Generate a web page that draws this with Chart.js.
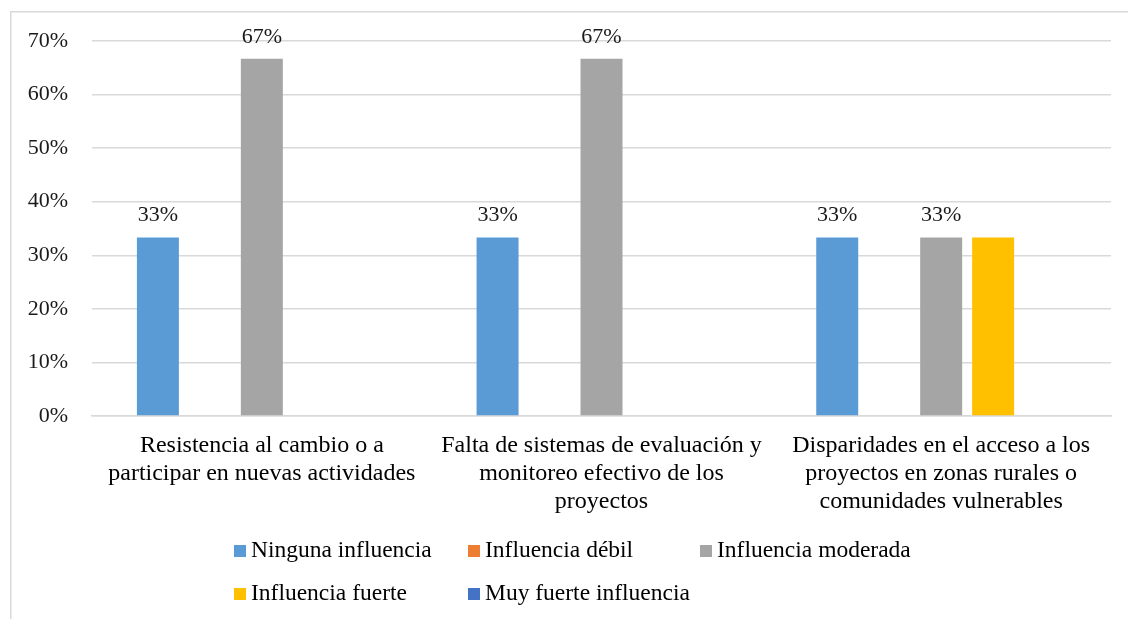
<!DOCTYPE html>
<html>
<head>
<meta charset="utf-8">
<script src="https://cdn.jsdelivr.net/npm/chart.js@4.4.1/dist/chart.umd.min.js"></script>
<style>
  html, body { margin: 0; padding: 0; background: #fff; }
  #wrap { position: relative; width: 1128px; height: 619px; }
</style>
</head>
<body>
<div id="wrap"><canvas id="grafica" width="1128" height="619"></canvas></div>
<script>
// Datos
const categorias = [
    ['Resistencia al cambio o a', 'participar en nuevas actividades'],
    ['Falta de sistemas de evaluación y', 'monitoreo efectivo de los', 'proyectos'],
    ['Disparidades en el acceso a los', 'proyectos en zonas rurales o', 'comunidades vulnerables']
];
const series = ['Ninguna influencia', 'Influencia débil', 'Influencia moderada', 'Influencia fuerte', 'Muy fuerte influencia'];
const colores = ['#5B9BD5', '#ED7D31', '#A5A5A5', '#FFC000', '#4472C4'];
const ninguna = [33.33, 33.33, 33.33];
const debil = [0, 0, 0];
const moderada = [66.67, 66.67, 33.33];
const fuerte = [0, 0, 33.33];
const muyFuerte = [0, 0, 0];
const conEtiqueta = [true, false, true, false, false];
const ticksY = [0, 10, 20, 30, 40, 50, 60, 70];

const valores = [ninguna, debil, moderada, fuerte, muyFuerte];
const fuente = '"Liberation Serif", "Times New Roman", serif';

// Marco, etiquetas y leyenda
const extras = {
    id: 'extras',
    beforeDraw(chart) {
        const ctx = chart.ctx;
        ctx.save();
        ctx.strokeStyle = '#d9d9d9';
        ctx.lineWidth = 1.5;
        ctx.beginPath();
        ctx.moveTo(10.75, 640);
        ctx.lineTo(10.75, 11.75);
        ctx.lineTo(1140, 11.75);
        ctx.stroke();
        ctx.restore();
    },
    afterDatasetsDraw(chart) {
        const ctx = chart.ctx;
        ctx.save();
        ctx.font = '22px ' + fuente;
        ctx.fillStyle = '#1a1a1a';
        ctx.textAlign = 'center';
        ctx.textBaseline = 'alphabetic';
        chart.data.datasets.forEach((ds, i) => {
            if (!conEtiqueta[i]) return;
            chart.getDatasetMeta(i).data.forEach((bar, j) => {
                const v = ds.data[j];
                if (!v) return;
                ctx.fillText(Math.round(v) + '%', bar.x, bar.y - 16);
            });
        });
        // leyenda
        const cols = [234, 468, 700];
        const filas = [557, 600];
        ctx.font = '23.5px ' + fuente;
        series.forEach((nombre, i) => {
            const x = cols[i % 3];
            const y = filas[Math.floor(i / 3)];
            ctx.fillStyle = colores[i];
            ctx.fillRect(x, y - 12, 12, 12);
            ctx.fillStyle = '#000';
            ctx.textAlign = 'left';
            ctx.fillText(nombre, x + 17, y);
        });
        ctx.restore();
    }
};

const ctx = document.getElementById('grafica').getContext('2d');
new Chart(ctx, {
    type: 'bar',
    data: {
        labels: categorias,
        datasets: series.map((s, i) => ({
            label: s,
            data: valores[i],
            backgroundColor: colores[i],
            categoryPercentage: 0.765,
            barPercentage: 0.808
        }))
    },
    options: {
        responsive: false,
        animation: false,
        layout: { padding: { top: 41, right: 17, left: 0, bottom: 0 } },
        plugins: {
            legend: { display: false },
            tooltip: { enabled: false }
        },
        scales: {
            y: {
                min: 0,
                max: 70,
                afterFit: scale => { scale.width = 92; },
                afterBuildTicks: scale => { scale.ticks = ticksY.map(v => ({ value: v })); },
                ticks: {
                    padding: 24,
                    color: '#1a1a1a',
                    font: { family: fuente, size: 22 },
                    callback: v => v + '%'
                },
                grid: { color: '#d9d9d9', lineWidth: 1.5, drawTicks: false },
                border: { display: false }
            },
            x: {
                afterFit: scale => { scale.height = 619 - 41 - 375; },
                ticks: {
                    padding: 16,
                    maxRotation: 0,
                    color: '#000',
                    font: { family: fuente, size: 24, lineHeight: '28px' }
                },
                grid: { display: false, drawTicks: false },
                border: { color: '#d9d9d9', width: 1.5 }
            }
        }
    },
    plugins: [extras]
});
</script>
</body>
</html>
